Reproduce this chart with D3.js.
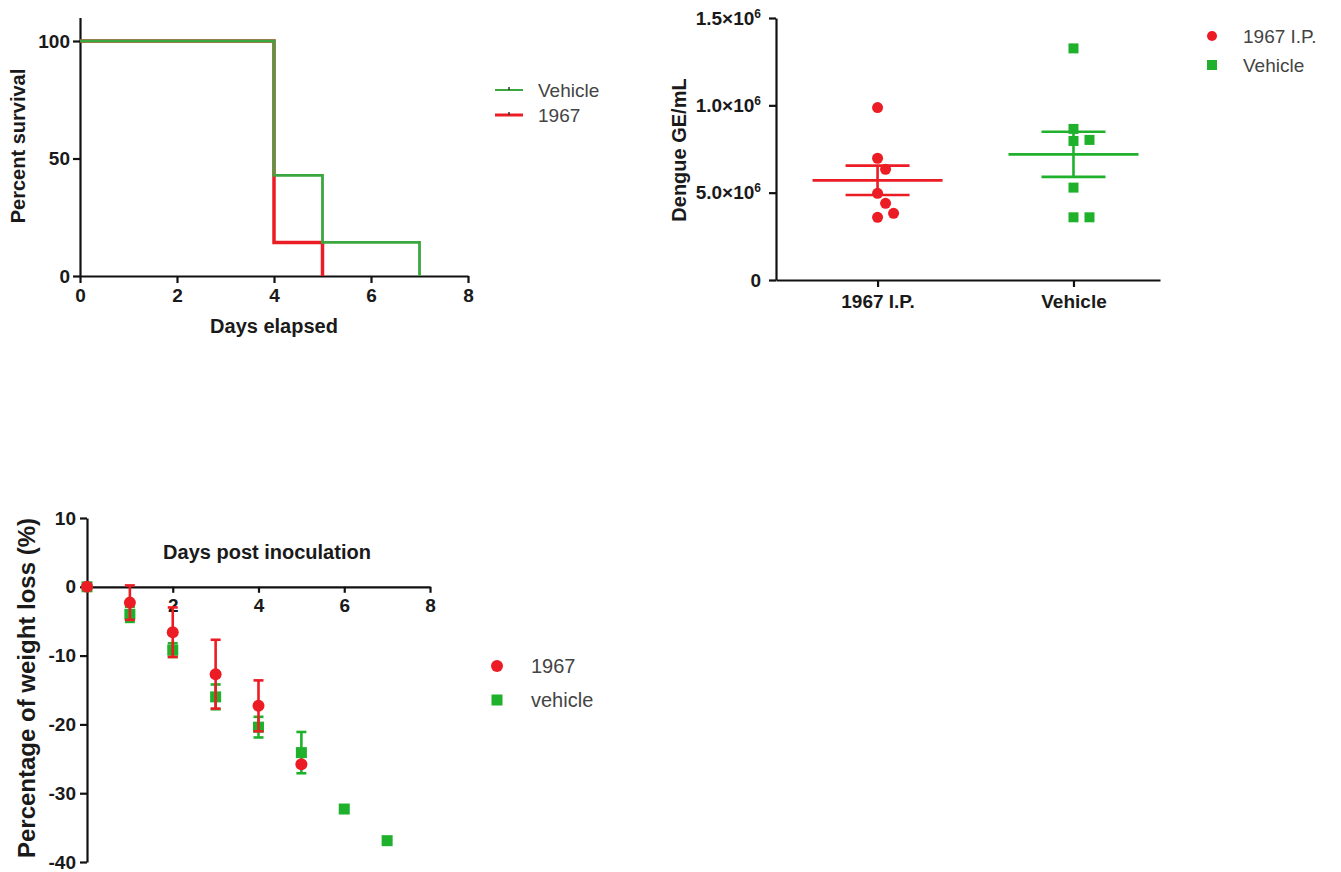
<!DOCTYPE html>
<html><head><meta charset="utf-8">
<script src="https://cdn.jsdelivr.net/npm/d3@7"></script>
<style>
body{margin:0;background:#fff}
text{font-family:"Liberation Sans",Arial,sans-serif}
</style>
</head><body>
<svg id="c" width="1341" height="872"></svg>
<script>
// ---------- DATA ----------
// Survival (Kaplan-Meier)
const survDaysVehicle = [0, 4, 5, 7];
const survVehicle = [100, 42.86, 14.29, 0];
const survDays1967 = [0, 4, 5];
const surv1967 = [100, 14.29, 0];
const survXTicks = [0, 2, 4, 6, 8];
const survYTicks = [0, 50, 100];
const survLegend = ["Vehicle", "1967"];

// Viremia (Dengue GE/mL)
const viremiaGroups = ["1967 I.P.", "Vehicle"];
const viremia1967 = [987000, 697000, 634000, 496000, 439000, 359000, 382000];
const viremiaVehicle = [1326000, 865000, 796000, 802000, 529000, 359000, 359000];
const viremiaYTicks = [0, 500000, 1000000, 1500000];
const viremiaTickLabels = ["0", "5.0×10", "1.0×10", "1.5×10"];
const viremiaTickExp = ["", "6", "6", "6"];

// Weight loss
const weightDays1967 = [0, 1, 2, 3, 4, 5];
const weightMean1967 = [0, -2.3, -6.6, -12.7, -17.3, -25.8];
const weightSem1967 = [0, 2.5, 3.6, 5.0, 3.7, 0];
const weightDaysVehicle = [0, 1, 2, 3, 4, 5, 6, 7];
const weightMeanVehicle = [0, -4.0, -9.2, -16.0, -20.4, -24.1, -32.3, -36.9];
const weightSemVehicle = [0, 1.1, 1.0, 1.8, 1.5, 3.0, 0, 0];
const weightXTicks = [2, 4, 6, 8];
const weightYTicks = [-40, -30, -20, -10, 0, 10];
const weightLegend = ["1967", "vehicle"];

// ---------- STYLE ----------
const RED = "#ec1c24";
const GREEN = "#1fb12c";
const GREEN_LINE = "#3aa83f";
const TICK_FONT = 19;
const TITLE_FONT = 20;

const svg = d3.select("#c");

function styleAxis(g) {
  g.select(".domain").attr("stroke", "#111").attr("stroke-width", 2.2);
  g.selectAll(".tick line").attr("stroke", "#111").attr("stroke-width", 2.2);
  g.selectAll(".tick text").attr("fill", "#1a1a1a")
    .attr("font-size", TICK_FONT).attr("font-weight", "bold")
    .style("font-family", '"Liberation Sans", Arial, sans-serif');
}
const plain = d => String(d);

// ================= CHART 1: Survival =================
{
  const x = d3.scaleLinear().domain([0, 8]).range([80, 468]);
  const y = d3.scaleLinear().domain([0, 110]).range([276, 17.5]);
  const g = svg.append("g");

  g.append("g").attr("transform", `translate(0,${y(0)})`)
    .call(d3.axisBottom(x).tickValues(survXTicks).tickFormat(plain).tickSize(7).tickSizeOuter(0).tickPadding(6))
    .call(styleAxis);
  g.append("g").attr("transform", `translate(${x(0)},0)`)
    .call(d3.axisLeft(y).tickValues(survYTicks).tickFormat(plain).tickSize(7).tickSizeOuter(0).tickPadding(3))
    .call(styleAxis);

  const line = d3.line().curve(d3.curveStepAfter).x(d => x(d[0])).y(d => y(d[1]));
  g.append("path").datum(d3.zip(survDays1967, surv1967)).attr("d", line)
    .attr("fill", "none").attr("stroke", RED).attr("stroke-width", 3.5);
  g.append("path").datum(d3.zip(survDaysVehicle, survVehicle)).attr("d", line)
    .attr("fill", "none").attr("stroke", GREEN_LINE).attr("stroke-width", 2.8);

  g.append("text").attr("x", (x(0) + x(8)) / 2).attr("y", 333).attr("text-anchor", "middle")
    .attr("font-size", TITLE_FONT).attr("font-weight", "bold").attr("fill", "#1a1a1a").text("Days elapsed");
  g.append("text").attr("transform", `translate(25,146) rotate(-90)`).attr("text-anchor", "middle")
    .attr("font-size", TITLE_FONT).attr("font-weight", "bold").attr("fill", "#1a1a1a").text("Percent survival");

  const lg = g.append("g");
  const lcol = [GREEN_LINE, RED];
  survLegend.forEach((name, i) => {
    const yy = 90 + i * 25;
    lg.append("line").attr("x1", 495).attr("x2", 523).attr("y1", yy).attr("y2", yy)
      .attr("stroke", lcol[i]).attr("stroke-width", i ? 3 : 2);
    lg.append("line").attr("x1", 509).attr("x2", 509).attr("y1", yy - 3).attr("y2", yy)
      .attr("stroke", "#333").attr("stroke-width", 1.5);
    lg.append("text").attr("x", 538).attr("y", yy).attr("dy", "0.35em")
      .attr("font-size", 19).attr("fill", "#444").text(name);
  });
}

// ================= CHART 2: Viremia =================
{
  const x = d3.scalePoint().domain(viremiaGroups).range([776, 1160]).padding(0.48).align(0.54);
  const y = d3.scaleLinear().domain([0, 1500000]).range([280, 18]);
  const g = svg.append("g");

  g.append("g").attr("transform", `translate(0,${y(0)})`)
    .call(d3.axisBottom(x).tickSize(7).tickSizeOuter(0).tickPadding(8))
    .call(styleAxis);
  const ya = g.append("g").attr("transform", `translate(776,0)`)
    .call(d3.axisLeft(y).tickValues(viremiaYTicks).tickSize(7).tickSizeOuter(0).tickPadding(8))
    .call(styleAxis);
  ya.selectAll(".tick text").each(function(d, i) {
    const t = d3.select(this).text(null);
    t.append("tspan").text(viremiaTickLabels[i]);
    if (viremiaTickExp[i]) {
      t.append("tspan").attr("dy", -7).attr("font-size", 12).text(viremiaTickExp[i]);
    }
  });

  g.append("text").attr("transform", `translate(686,150) rotate(-90)`).attr("text-anchor", "middle")
    .attr("font-size", TITLE_FONT).attr("font-weight", "bold").attr("fill", "#1a1a1a").text("Dengue GE/mL");

  // beeswarm offsets
  function swarm(vals, cx) {
    const placed = [];
    const cands = [0, 8, -8, 16, -16, 24, -24];
    return vals.map(v => {
      const py = y(v);
      for (const o of cands) {
        if (placed.every(p => Math.hypot(p[0] - (cx + o), p[1] - py) >= 12)) {
          placed.push([cx + o, py]);
          return [cx + o, py];
        }
      }
      placed.push([cx, py]); return [cx, py];
    });
  }

  const sets = [
    { vals: viremia1967, color: RED, shape: "circle", grp: viremiaGroups[0] },
    { vals: viremiaVehicle, color: GREEN, shape: "square", grp: viremiaGroups[1] }
  ];
  sets.forEach(s => {
    const cx = x(s.grp);
    const m = d3.mean(s.vals);
    const sem = d3.deviation(s.vals) / Math.sqrt(s.vals.length);
    const pts = swarm(s.vals, cx);
    const pg = g.append("g");
    if (s.shape === "circle") {
      pg.selectAll("circle").data(pts).join("circle")
        .attr("cx", d => d[0]).attr("cy", d => d[1]).attr("r", 5.5).attr("fill", s.color);
    } else {
      pg.selectAll("rect").data(pts).join("rect")
        .attr("x", d => d[0] - 5).attr("y", d => d[1] - 5).attr("width", 10).attr("height", 10).attr("fill", s.color);
    }
    const eg = g.append("g").attr("stroke", s.color).attr("stroke-width", 2.6);
    eg.append("line").attr("x1", cx - 65).attr("x2", cx + 65).attr("y1", y(m)).attr("y2", y(m));
    eg.append("line").attr("x1", cx).attr("x2", cx).attr("y1", y(m - sem)).attr("y2", y(m + sem));
    [m - sem, m + sem].forEach(v => {
      eg.append("line").attr("x1", cx - 32).attr("x2", cx + 32).attr("y1", y(v)).attr("y2", y(v));
    });
  });

  const lg = g.append("g");
  sets.forEach((s, i) => {
    const yy = 36 + i * 29;
    if (s.shape === "circle") lg.append("circle").attr("cx", 1212).attr("cy", yy).attr("r", 5).attr("fill", s.color);
    else lg.append("rect").attr("x", 1207).attr("y", yy - 5).attr("width", 10).attr("height", 10).attr("fill", s.color);
    lg.append("text").attr("x", 1243).attr("y", yy).attr("dy", "0.35em")
      .attr("font-size", 19).attr("fill", "#444").text(s.grp);
  });
}

// ================= CHART 3: Weight loss =================
{
  const x = d3.scaleLinear().domain([0, 8]).range([87, 430]);
  const y = d3.scaleLinear().domain([-40, 10]).range([862, 518]);
  const g = svg.append("g");

  g.append("g").attr("transform", `translate(0,${y(0)})`)
    .call(d3.axisBottom(x).tickValues(weightXTicks).tickFormat(plain).tickSize(6).tickSizeOuter(0).tickPadding(6))
    .call(styleAxis);
  g.append("g").attr("transform", `translate(${x(0)},0)`)
    .call(d3.axisLeft(y).tickValues(weightYTicks).tickFormat(plain).tickSize(7).tickSizeOuter(0).tickPadding(4))
    .call(styleAxis);

  g.append("text").attr("x", 267).attr("y", 559).attr("text-anchor", "middle")
    .attr("font-size", 20).attr("font-weight", "bold").attr("fill", "#1a1a1a").text("Days post inoculation");
  g.append("text").attr("transform", `translate(35,688) rotate(-90)`).attr("text-anchor", "middle")
    .attr("font-size", 24).attr("font-weight", "bold").attr("fill", "#1a1a1a").text("Percentage of weight loss (%)");

  function errorbars(days, means, sems, color) {
    const eg = g.append("g").attr("stroke", color).attr("stroke-width", 2.6);
    days.forEach((d, i) => {
      if (!sems[i]) return;
      const cx = x(d);
      eg.append("line").attr("x1", cx).attr("x2", cx).attr("y1", y(means[i] - sems[i])).attr("y2", y(means[i] + sems[i]));
      [means[i] - sems[i], means[i] + sems[i]].forEach(v =>
        eg.append("line").attr("x1", cx - 5).attr("x2", cx + 5).attr("y1", y(v)).attr("y2", y(v)));
    });
  }
  const vData = d3.zip(weightDaysVehicle, weightMeanVehicle);
  const rData = d3.zip(weightDays1967, weightMean1967);
  errorbars(weightDaysVehicle, weightMeanVehicle, weightSemVehicle, GREEN);
  g.append("g").selectAll("rect").data(vData).join("rect")
    .attr("x", d => x(d[0]) - 5.5).attr("y", d => y(d[1]) - 5.5).attr("width", 11).attr("height", 11).attr("fill", GREEN);
  errorbars(weightDays1967, weightMean1967, weightSem1967, RED);
  g.append("g").selectAll("circle").data(rData).join("circle")
    .attr("cx", d => x(d[0])).attr("cy", d => y(d[1])).attr("r", 6).attr("fill", RED);

  const lg = g.append("g");
  weightLegend.forEach((name, i) => {
    const yy = 666 + i * 34;
    if (i === 0) lg.append("circle").attr("cx", 497).attr("cy", yy).attr("r", 6).attr("fill", RED);
    else lg.append("rect").attr("x", 491.5).attr("y", yy - 5.5).attr("width", 11).attr("height", 11).attr("fill", GREEN);
    lg.append("text").attr("x", 531).attr("y", yy).attr("dy", "0.35em")
      .attr("font-size", 20).attr("fill", "#444").text(name);
  });
}
</script>
</body></html>
